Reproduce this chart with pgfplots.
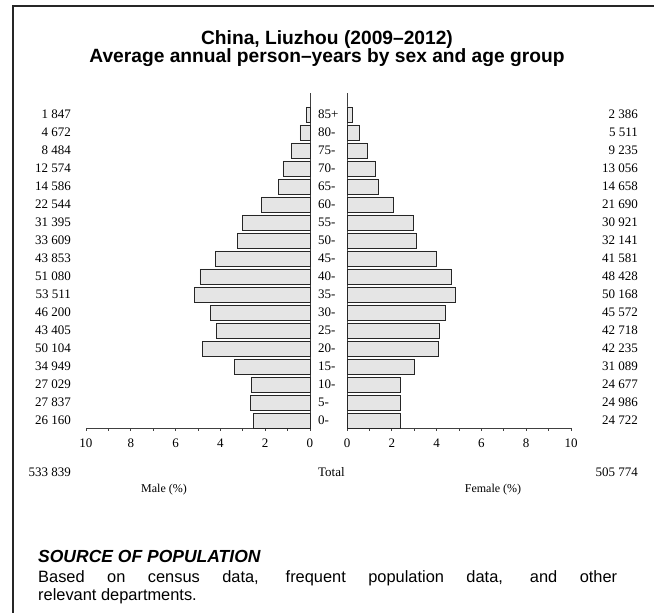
\documentclass[border=0pt]{standalone}
\usepackage{pgfplots}
\pgfplotsset{compat=1.18}
\usepackage{pgfplotstable}
\usepackage{fontspec}
\setmainfont{Liberation Serif}
\setsansfont{Liberation Sans}

% percent of all person-years (both sexes), age group index 0 = 0-, 17 = 85+
\pgfplotstableread{
grp male female
0  2.5163 2.3780
1  2.6776 2.4034
2  2.5999 2.3737
3  3.3617 2.9904
4  4.8195 4.0626
5  4.1751 4.1090
6  4.4440 4.3836
7  5.1472 4.8256
8  4.9134 4.6583
9  4.2182 3.9997
10 3.2328 3.0916
11 3.0199 2.9743
12 2.1685 2.0863
13 1.4030 1.4100
14 1.2095 1.2558
15 0.8161 0.8883
16 0.4494 0.5301
17 0.1777 0.2295
}\pyramid

\pgfplotsset{
  pyr/.style={
    xbar, bar width=0.83,
    scale only axis, width=224pt, height=335pt, anchor=south west,
    xmin=0, xmax=10, ymin=-0.4167, ymax=18.19,
    axis x line*=bottom,
    ytick=\empty,
    xtick={0,2,...,10}, minor xtick={1,3,...,9},
    tick align=outside, major tick length=3pt, minor tick length=3pt,
    axis line style={line width=0.9pt, black!75},
    every tick/.style={black!75, line width=0.7pt},
    xticklabel style={font=\fontsize{13}{13}\selectfont, yshift=-4pt},
    /pgf/number format/assume math mode=true,
    clip=false,
  },
  pyrbar/.style={fill=black!10, draw=black!85, line width=0.7pt},
}

\begin{document}
\begin{tikzpicture}
\useasboundingbox (0pt,0pt) rectangle (654pt,613pt);
\draw[line width=1.3pt, black!85] (13pt,0pt) -- (13pt,607pt) -- (654pt,607pt);

\node[font=\sffamily\bfseries\fontsize{19.2}{18}\selectfont, align=center]
  at (327pt,564pt) {China, Liuzhou (2009--2012)\\Average annual person--years by sex and age group};

\begin{axis}[pyr, at={(86pt,185pt)}, x dir=reverse, axis y line*=right]
  \addplot[pyrbar] table[x=male, y=grp] {\pyramid};
\end{axis}

\begin{axis}[pyr, at={(347pt,185pt)}, axis y line*=left]
  \addplot[pyrbar] table[x=female, y=grp] {\pyramid};
\end{axis}

\foreach \m/\a/\f [count=\i from 0] in {
  26 160/0-/24 722, 27 837/5-/24 986, 27 029/10-/24 677, 34 949/15-/31 089,
  50 104/20-/42 235, 43 405/25-/42 718, 46 200/30-/45 572, 53 511/35-/50 168,
  51 080/40-/48 428, 43 853/45-/41 581, 33 609/50-/32 141, 31 395/55-/30 921,
  22 544/60-/21 690, 14 586/65-/14 658, 12 574/70-/13 056, 8 484/75-/9 235,
  4 672/80-/5 511, 1 847/85+/2 386} {
  \pgfmathsetmacro{\yy}{188.2+18*\i}
  \node[anchor=base east, inner sep=0, font=\fontsize{13}{13}\selectfont] at (71pt,\yy pt) {\m};
  \node[anchor=base west, inner sep=0, font=\fontsize{13}{13}\selectfont] at (318pt,\yy pt) {\a};
  \node[anchor=base east, inner sep=0, font=\fontsize{13}{13}\selectfont] at (638pt,\yy pt) {\f};
}

\node[anchor=base east, inner sep=0, font=\fontsize{13}{13}\selectfont] at (71pt,136.7pt) {533 839};
\node[anchor=base west, inner sep=0, font=\fontsize{13}{13}\selectfont] at (318pt,136.7pt) {Total};
\node[anchor=base east, inner sep=0, font=\fontsize{13}{13}\selectfont] at (638pt,136.7pt) {505 774};
\node[font=\fontsize{12}{12}\selectfont] at (164pt,123pt) {Male (\%)};
\node[font=\fontsize{12}{12}\selectfont] at (493pt,123pt) {Female (\%)};

\node[anchor=north west, inner sep=0, text width=579pt, align=justify,
      font=\sffamily\fontsize{16.4}{18.5}\selectfont] at (38pt,63pt)
  {{\fontsize{17.5}{18.5}\selectfont\textbf{\textit{SOURCE OF POPULATION}}}\\[1.5pt]
   Based on census data, frequent population data, and other\linebreak
   relevant departments.};
\end{tikzpicture}
\end{document}
